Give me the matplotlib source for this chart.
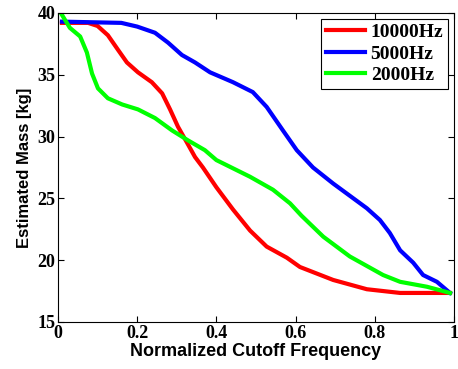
import matplotlib
matplotlib.use("Agg")
import matplotlib.pyplot as plt

# values
x_red = [0.01, 0.076, 0.10, 0.126, 0.152, 0.174, 0.202, 0.237, 0.263, 0.283, 0.303, 0.326,
         0.346, 0.366, 0.40, 0.442, 0.485, 0.527, 0.578, 0.611, 0.695, 0.78, 0.864, 0.99]
y_red = [39.2, 39.2, 38.95, 38.2, 37.0, 36.0, 35.2, 34.4, 33.5, 32.2, 30.8, 29.5,
         28.35, 27.5, 25.9, 24.1, 22.4, 21.1, 20.2, 19.45, 18.4, 17.65, 17.35, 17.35]

x_blue = [0.01, 0.16, 0.20, 0.245, 0.278, 0.313, 0.346, 0.384, 0.442, 0.492, 0.527, 0.568,
          0.603, 0.644, 0.695, 0.78, 0.813, 0.838, 0.864, 0.897, 0.922, 0.957, 0.99]
y_blue = [39.3, 39.2, 38.9, 38.4, 37.6, 36.6, 36.0, 35.2, 34.4, 33.6, 32.4, 30.5,
          28.9, 27.5, 26.2, 24.2, 23.25, 22.2, 20.8, 19.8, 18.8, 18.25, 17.35]

x_green = [0.01, 0.03, 0.056, 0.073, 0.086, 0.101, 0.126, 0.162, 0.202, 0.245, 0.288, 0.328,
           0.371, 0.40, 0.485, 0.543, 0.586, 0.615, 0.67, 0.737, 0.821, 0.864, 0.932, 0.99]
y_green = [39.85, 38.8, 38.1, 36.8, 35.1, 33.9, 33.1, 32.6, 32.2, 31.5, 30.5, 29.7,
           28.9, 28.1, 26.75, 25.7, 24.6, 23.6, 21.9, 20.3, 18.8, 18.25, 17.85, 17.35]

labels = ["10000Hz", "5000Hz", "2000Hz"]
x_ticks = [0, 0.2, 0.4, 0.6, 0.8, 1]
x_ticklabels = ["0", "0.2", "0.4", "0.6", "0.8", "1"]
y_ticks = [15, 20, 25, 30, 35, 40]

fig = plt.figure(figsize=(4.58, 3.69), dpi=100)
ax = fig.add_axes([0.1266, 0.1274, 0.8646, 0.8374])

ax.plot(x_red, y_red, color="#ff0000", lw=3, label=labels[0], solid_joinstyle="round")
ax.plot(x_blue, y_blue, color="#0000ff", lw=3, label=labels[1], solid_joinstyle="round")
ax.plot(x_green, y_green, color="#00ff00", lw=3, label=labels[2], solid_joinstyle="round")

ax.set_xlim(0, 1)
ax.set_ylim(15, 40)
ax.set_xticks(x_ticks)
ax.set_xticklabels(x_ticklabels)
ax.set_yticks(y_ticks)
ax.tick_params(direction="in", top=True, right=True, length=4, width=0.8, pad=2)
for lab in ax.get_xticklabels() + ax.get_yticklabels():
    lab.set_family("Liberation Serif")
    lab.set_fontweight("bold")
    lab.set_fontsize(13)

ax.set_xlabel("Normalized Cutoff Frequency", family="Liberation Sans",
              fontweight="bold", fontsize=13, labelpad=1)
ax.set_ylabel("Estimated Mass [kg]", family="Liberation Sans",
              fontweight="bold", fontsize=12, labelpad=4)

leg = ax.legend(loc="upper right",
                prop={"family": "Liberation Serif", "size": 14, "weight": "bold"},
                fancybox=False, edgecolor="black", framealpha=1,
                handlelength=2.0, handletextpad=0.3, borderpad=0.25,
                labelspacing=0.2, borderaxespad=0.3)
leg.get_frame().set_linewidth(0.8)

fig.savefig("out.png", dpi=100)
